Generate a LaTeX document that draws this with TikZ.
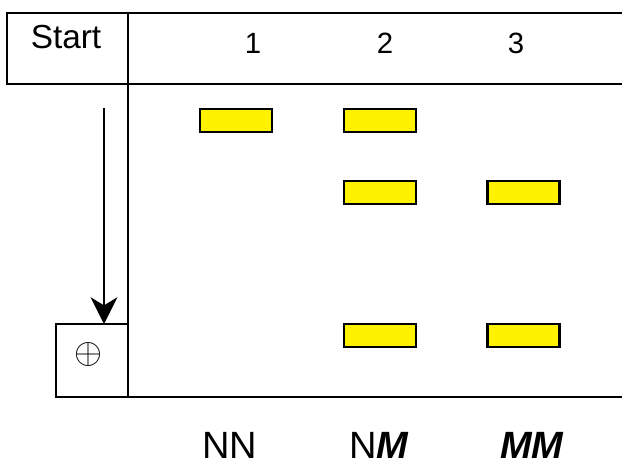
\documentclass[tikz,border=0pt]{standalone}
\usepackage{fontspec}
\setmainfont{Liberation Sans}
\usetikzlibrary{arrows.meta}
\begin{document}
\begin{tikzpicture}[x=0.75pt,y=-0.75pt,
  frame/.style={line width=1.5pt},
  band/.style={draw=black,fill=yellow,line width=1.8pt,minimum width=54pt,minimum height=17pt,inner sep=0pt,outer sep=0pt},
  lane/.style={font=\fontsize{22}{26}\selectfont,anchor=base,inner sep=0pt},
  geno/.style={font=\fontsize{28.5}{32}\selectfont,anchor=base,inner sep=0pt}]
\useasboundingbox (0,0) rectangle (622,465);
% header strip
\draw[frame] (622,13) -- (7,13) -- (7,84) -- (622,84);
\draw[frame] (128,13) -- (128,397) -- (622,397);
\node[font=\fontsize{25}{30}\selectfont,anchor=base,inner sep=0pt] (start) at (66,48) {Start};
\node[lane] (l1) at (253,53) {1};
\node[lane] (l2) at (385,53) {2};
\node[lane] (l3) at (516,53) {3};
% electrode box
\node[draw,line width=1.5pt,minimum width=54pt,minimum height=54.75pt,inner sep=0pt,outer sep=0pt,anchor=north west] (plusbox) at (56,324) {};
\node[inner sep=0pt] (anode) at (88,354) {\scalebox{2.7}{$\oplus$}};
% migration arrow
\coordinate (arrowtop) at (104,108);
\draw[line width=1.5pt,-{Stealth[length=20pt,width=20pt,inset=6pt]}] (arrowtop) -- (arrowtop |- plusbox.north);
% bands
\node[band] (b11) at (236,120.5) {};
\node[band] (b21) at (380,120.5) {};
\node[band] (b22) at (380,192.5) {};
\node[band] (b32) at (523.5,192.5) {};
\node[band] (b23) at (380,335.5) {};
\node[band] (b33) at (523.5,335.5) {};
% genotypes
\node[geno] (g1) at (230,458) {NN};
\node[geno] (g2) at (379,458) {N\textbf{\textit{M}}};
\node[geno] (g3) at (532,458) {\textbf{\textit{MM}}};
\end{tikzpicture}
\end{document}
